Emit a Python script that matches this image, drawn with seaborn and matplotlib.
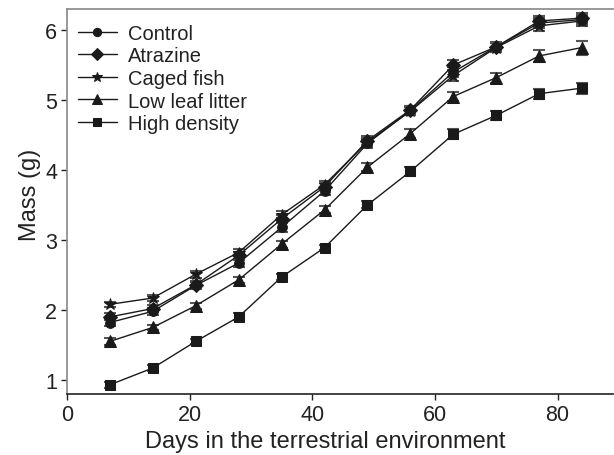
import matplotlib
matplotlib.use("Agg")
import matplotlib.pyplot as plt
import seaborn as sns
import pandas as pd

days = [7, 14, 21, 28, 35, 42, 49, 56, 63, 70, 77, 84]
control = [1.82, 1.98, 2.35, 2.67, 3.18, 3.70, 4.38, 4.85, 5.40, 5.76, 6.10, 6.15]
atrazine = [1.90, 2.02, 2.36, 2.78, 3.30, 3.76, 4.42, 4.86, 5.50, 5.76, 6.13, 6.17]
caged_fish = [2.08, 2.17, 2.51, 2.82, 3.36, 3.79, 4.40, 4.84, 5.35, 5.75, 6.06, 6.13]
low_leaf = [1.55, 1.75, 2.06, 2.43, 2.94, 3.43, 4.04, 4.52, 5.05, 5.32, 5.63, 5.75]
high_density = [0.93, 1.17, 1.55, 1.90, 2.47, 2.89, 3.50, 3.98, 4.51, 4.78, 5.09, 5.17]
err_control = [0.05, 0.05, 0.05, 0.05, 0.06, 0.06, 0.06, 0.06, 0.07, 0.07, 0.07, 0.07]
err_atrazine = [0.05, 0.05, 0.05, 0.05, 0.05, 0.05, 0.06, 0.06, 0.07, 0.06, 0.07, 0.07]
err_caged = [0.04, 0.04, 0.05, 0.05, 0.05, 0.05, 0.06, 0.06, 0.08, 0.06, 0.08, 0.07]
err_low = [0.05, 0.04, 0.04, 0.04, 0.05, 0.05, 0.06, 0.07, 0.06, 0.07, 0.08, 0.10]
err_high = [0.04, 0.04, 0.04, 0.05, 0.04, 0.04, 0.05, 0.06, 0.07, 0.06, 0.07, 0.08]

series = ["Control", "Atrazine", "Caged fish", "Low leaf litter", "High density"]
values = [control, atrazine, caged_fish, low_leaf, high_density]
errors = [err_control, err_atrazine, err_caged, err_low, err_high]
markers = ["o", "D", "*", "^", "s"]
msizes = [7, 7, 9, 8, 7]

sns.set_style("ticks")
plt.rcParams["font.family"] = ["Liberation Sans", "DejaVu Sans"]

fig = plt.figure(figsize=(6.14, 4.56), dpi=100)
ax = fig.add_axes([0.109, 0.134, 0.889, 0.844])

col = "#1a1a1a"
for name, vals, errs, m, ms in zip(series, values, errors, markers, msizes):
    df = pd.DataFrame({"day": days, "mass": vals})
    ax.errorbar(days, vals, yerr=errs, fmt="none", ecolor="#555555",
                elinewidth=1.0, capsize=4, capthick=1.5, zorder=2)
    sns.lineplot(data=df, x="day", y="mass", ax=ax, color=col, lw=1.0,
                 marker=m, markersize=ms, markeredgecolor=col,
                 markerfacecolor=col, label=name, zorder=3)

ax.set_xlim(0, 89)
ax.set_ylim(0.8, 6.3)
ax.set_xticks([0, 20, 40, 60, 80])
ax.set_yticks([1, 2, 3, 4, 5, 6])
ax.set_xlabel("Days in the terrestrial environment", fontsize=17, color="#222222")
ax.set_ylabel("Mass (g)", fontsize=17, color="#222222")
ax.xaxis.set_label_coords(0.474, -0.095)
ax.yaxis.set_label_coords(-0.047, 0.52)
ax.tick_params(labelsize=15.5, direction="out", length=4, width=1, colors="#222222", pad=3)

ax.spines["right"].set_visible(False)
ax.spines["top"].set_visible(True)
ax.spines["top"].set_color("#888888")
ax.spines["left"].set_color("#888888")
ax.spines["bottom"].set_color("#222222")
for s in ax.spines.values():
    s.set_linewidth(1.2)

leg = ax.legend(loc="upper left", frameon=False, fontsize=14.5,
                handlelength=1.95, handletextpad=0.55, labelspacing=0.18,
                borderaxespad=0.0, borderpad=0.0, bbox_to_anchor=(0.02, 0.962),
                markerscale=0.85)
for t in leg.get_texts():
    t.set_color("#222222")

fig.savefig("out.png", dpi=100)
